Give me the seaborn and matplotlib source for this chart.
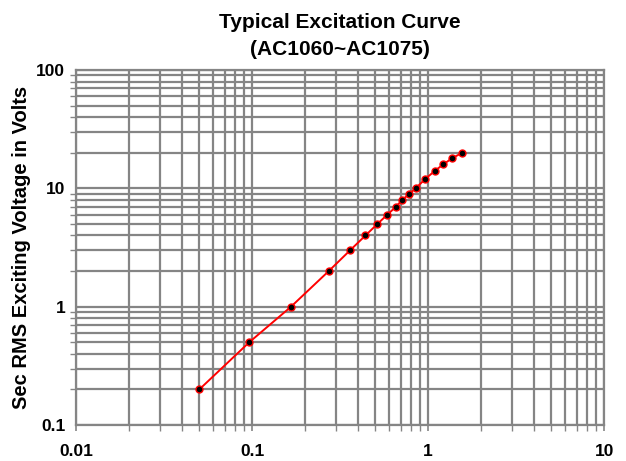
import matplotlib
matplotlib.use("Agg")
import matplotlib.pyplot as plt
import seaborn as sns
import pandas as pd
from matplotlib.ticker import LogLocator, FixedLocator, FixedFormatter, NullFormatter

current_a = [0.05, 0.096, 0.166, 0.272, 0.36, 0.44, 0.514, 0.586, 0.656, 0.713,
             0.781, 0.848, 0.962, 1.087, 1.22, 1.37, 1.56]
voltage_v = [0.2, 0.5, 1, 2, 3, 4, 5, 6, 7, 8, 9, 10, 12, 14, 16, 18, 20]
x_ticks = [0.01, 0.1, 1, 10]
x_labels = ["0.01", "0.1", "1", "10"]
y_ticks = [0.1, 1, 10, 100]
y_labels = ["0.1", "1", "10", "100"]

sns.set_style("white")
plt.rcParams['font.family'] = ['Liberation Sans', 'DejaVu Sans']
plt.rcParams['text.color'] = 'black'
plt.rcParams['axes.labelcolor'] = 'black'
plt.rcParams['xtick.labelcolor'] = 'black'
plt.rcParams['ytick.labelcolor'] = 'black'

df = pd.DataFrame({"I": current_a, "V": voltage_v})

fig = plt.figure(figsize=(6.26, 4.61), dpi=100)
ax = fig.add_axes([0.122, 0.078, 0.843, 0.77])

grid_c = "#858585"
ax.set_xscale("log")
ax.set_yscale("log")
ax.set_xlim(0.01, 10)
ax.set_ylim(0.1, 100)

ax.xaxis.set_major_locator(FixedLocator(x_ticks))
ax.xaxis.set_major_formatter(FixedFormatter(x_labels))
ax.yaxis.set_major_locator(FixedLocator(y_ticks))
ax.yaxis.set_major_formatter(FixedFormatter(y_labels))
ax.xaxis.set_minor_locator(LogLocator(base=10, subs=range(2, 10)))
ax.yaxis.set_minor_locator(LogLocator(base=10, subs=range(2, 10)))
ax.xaxis.set_minor_formatter(NullFormatter())
ax.yaxis.set_minor_formatter(NullFormatter())

ax.grid(True, which="both", color=grid_c, linewidth=1.6)
ax.set_axisbelow(True)
for s in ax.spines.values():
    s.set_color(grid_c)
    s.set_linewidth(1.6)

ax.tick_params(axis="y", which="major", length=5, width=1.2, color=grid_c,
               labelsize=12.5, direction="out", pad=3, labelcolor="black")
ax.tick_params(axis="y", which="minor", length=4, width=1.0, color=grid_c, left=True)
ax.tick_params(axis="x", which="major", length=4, width=1.2, color=grid_c,
               labelsize=12.5, direction="out", pad=10, bottom=True, labelcolor="black")
ax.tick_params(axis="x", which="minor", length=4, width=1.0, color=grid_c, bottom=True)
for lab in ax.get_xticklabels() + ax.get_yticklabels():
    lab.set_fontweight("bold")

sns.lineplot(data=df, x="I", y="V", ax=ax, color="#ff0000", linewidth=1.4,
             marker="o", markersize=5, markerfacecolor="black",
             markeredgecolor="#ff0000", markeredgewidth=1.0, zorder=5)

ax.set_xlabel("")
ax.set_ylabel("Sec RMS Exciting Voltage in Volts", fontsize=14.5, fontweight="bold",
              labelpad=4, color="black")
ax.set_title("Typical Excitation Curve\n(AC1060~AC1075)", fontsize=15, fontweight="bold",
             pad=11, linespacing=1.5, color="black")

fig.savefig("out.png", dpi=100)
